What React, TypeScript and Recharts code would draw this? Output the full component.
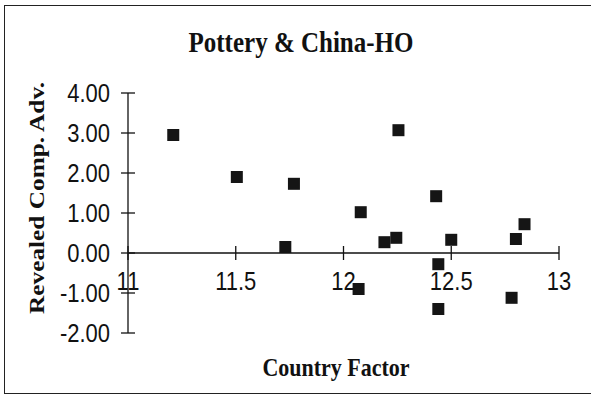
import React from 'react';
import { ScatterChart, Scatter, XAxis, YAxis, ReferenceLine } from 'recharts';

// values
const countryFactor = [11.21, 11.505, 11.77, 11.73, 12.08, 12.07, 12.19, 12.245, 12.255, 12.43, 12.44, 12.44, 12.5, 12.8, 12.84, 12.78];
const revealedCompAdv = [2.95, 1.9, 1.73, 0.15, 1.02, -0.9, 0.27, 0.38, 3.07, 1.42, -0.28, -1.4, 0.33, 0.35, 0.72, -1.12];
const xTicks = [11, 11.5, 12, 12.5, 13];
const yTicks = [-2, -1, 0, 1, 2, 3, 4];

const W = 591;
const H = 403;
const PLOT_TOP = 93;
const PLOT_H = 240;
const PLOT_LEFT = 128;
const PLOT_RIGHT = 32;
const Y_MIN = -2;
const Y_MAX = 4;
// distance from the bottom of the plot up to the y = 0 line, where the x axis sits
const ZERO_UP = (PLOT_H * (0 - Y_MIN)) / (Y_MAX - Y_MIN);
// the scan is a little taller than it is wide
const STRETCH = 1.15;

const serif = '"Liberation Serif", "Times New Roman", serif';
const sans = '"Liberation Sans", Arial, sans-serif';

const data = countryFactor.map((x, i) => ({ x, y: revealedCompAdv[i] }));

const XTick = (props: any) => {
  const { x, y, payload } = props;
  const ay = y - ZERO_UP;
  return (
    <g>
      <line x1={x} x2={x} y1={ay - 7} y2={ay + 7} stroke="#111" strokeWidth={1.3} />
      <text
        transform={`translate(${x},${ay + 37}) scale(1,${STRETCH})`}
        textAnchor="middle" fontFamily={sans} fontSize={22} fill="#111"
      >
        {payload.value}
      </text>
    </g>
  );
};

const YTick = (props: any) => {
  const { x, y, payload } = props;
  return (
    <g>
      <line x1={x - 7} x2={x + 7} y1={y} y2={y} stroke="#111" strokeWidth={1.3} />
      <text
        transform={`translate(${x - 18},${y + 9}) scale(1,${STRETCH})`}
        textAnchor="end" fontFamily={sans} fontSize={22} fill="#111"
      >
        {Number(payload.value).toFixed(2)}
      </text>
    </g>
  );
};

const Square = (props: any) => {
  const { cx, cy } = props;
  return <rect x={cx - 6} y={cy - 6} width={12} height={12} fill="#151515" />;
};

export default function App() {
  return (
    <div style={{ position: 'absolute', left: 0, top: 0, width: W, height: H, background: '#fff', overflow: 'hidden' }}>
      <div
        style={{
          position: 'absolute', left: 4, top: 5, width: 600, height: 389,
          border: '1.5px solid #222', boxSizing: 'border-box',
        }}
      />
      <div
        style={{
          position: 'absolute', left: 4, width: 594, top: 29, textAlign: 'center',
          fontFamily: serif, fontWeight: 'bold', fontSize: 25, color: '#111',
          transform: `scaleY(${STRETCH})`,
        }}
      >
        Pottery &amp; China-HO
      </div>
      <div
        style={{
          position: 'absolute', left: 236, width: 200, top: 355, textAlign: 'center',
          fontFamily: serif, fontWeight: 'bold', fontSize: 22, color: '#111',
          transform: `scaleY(${STRETCH})`,
        }}
      >
        Country Factor
      </div>
      <div
        style={{
          position: 'absolute', left: 37 - 130, top: 198 - 14, width: 260, height: 28,
          lineHeight: '28px', textAlign: 'center', transform: `rotate(-90deg) scaleX(${STRETCH})`,
          fontFamily: serif, fontWeight: 'bold', fontSize: 22, color: '#111', whiteSpace: 'nowrap',
        }}
      >
        Revealed Comp. Adv.
      </div>
      <div style={{ position: 'absolute', left: 0, top: 0 }}>
        <ScatterChart
          width={W}
          height={H}
          margin={{ top: PLOT_TOP, right: PLOT_RIGHT, bottom: H - PLOT_TOP - PLOT_H - 30, left: PLOT_LEFT - 70 }}
        >
          <XAxis
            type="number"
            dataKey="x"
            domain={[11, 13]}
            ticks={xTicks}
            height={30}
            axisLine={false}
            tickLine={false}
            tickSize={0}
            tickMargin={0}
            tick={<XTick />}
            interval={0}
            allowDataOverflow
          />
          <YAxis
            type="number"
            dataKey="y"
            domain={[Y_MIN, Y_MAX]}
            ticks={yTicks}
            width={70}
            axisLine={{ stroke: '#111', strokeWidth: 1.3 }}
            tickLine={false}
            tickSize={0}
            tickMargin={0}
            tick={<YTick />}
            interval={0}
          />
          <ReferenceLine y={0} stroke="#111" strokeWidth={1.3} />
          <Scatter data={data} shape={<Square />} isAnimationActive={false} />
        </ScatterChart>
      </div>
    </div>
  );
}
